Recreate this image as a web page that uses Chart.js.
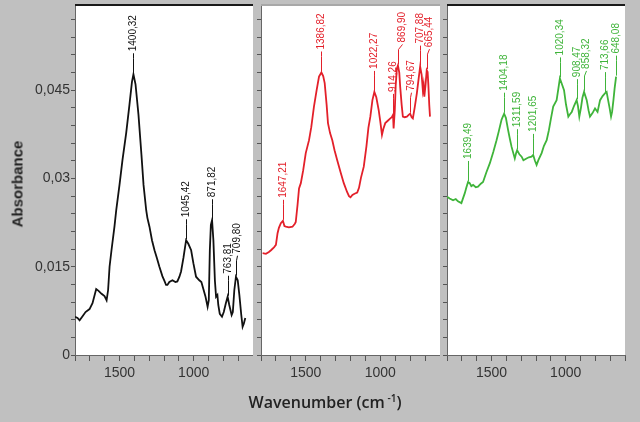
<!doctype html>
<html lang="en">
<head>
<meta charset="UTF-8">
<title>IR spectra - Absorbance vs Wavenumber</title>
<script src="https://cdn.jsdelivr.net/npm/chart.js"></script>
<style>
  body { margin: 0; background: #c0c0c0; }
  #wrap { position: relative; width: 640px; height: 422px; overflow: hidden; font-family: Arial, "Liberation Sans", sans-serif; }
  #wrap canvas { position: absolute; top: 0; }
  .ytitle { position: absolute; left: 17px; top: 184px; transform: translate(-50%, -50%) rotate(-90deg);
            font-weight: bold; font-size: 15px; color: #222; white-space: nowrap; }
  .xtitle { position: absolute; left: 325px; top: 402px; transform: translate(-50%, -50%);
            font-family: "Open Sans", sans-serif; font-weight: 600; font-size: 16px; color: #222; white-space: nowrap; }
  .xtitle sup { font-size: 10px; }
</style>
</head>
<body>
<div id="wrap">
  <canvas id="p1" width="253" height="422" style="left:0"></canvas>
  <canvas id="p2" width="187" height="422" style="left:253px"></canvas>
  <canvas id="p3" width="200" height="422" style="left:440px"></canvas>
  <div class="ytitle">Absorbance</div>
  <div class="xtitle">Wavenumber (cm<sup> -1</sup>)</div>
</div>

<script>
// black spectrum
const blackWn = [1800, 1783, 1769, 1749, 1729, 1702, 1682, 1657, 1641, 1621, 1601, 1587, 1577, 1567, 1554, 1534, 1522, 1500, 1480, 1455,
  1433, 1416, 1406, 1392, 1372, 1352, 1338, 1320, 1312, 1298, 1281, 1264, 1248, 1231, 1211, 1197, 1186, 1177, 1164, 1143,
  1123, 1110, 1096, 1085, 1069, 1051, 1036, 1017, 1002, 984, 962, 948, 939, 921, 906, 898, 891, 884, 876, 867,
  857, 849, 840, 834, 824, 809, 797, 783, 771, 760, 744, 736, 726, 715, 703, 692, 679, 670, 662, 652];
const blackAbs = [0.0065, 0.0063, 0.0059, 0.0066, 0.0073, 0.0078, 0.0088, 0.0112, 0.0109, 0.0104, 0.0100, 0.0093, 0.0110, 0.0150, 0.0178, 0.0218, 0.0246, 0.0289, 0.0331, 0.0377,
  0.0425, 0.0464, 0.0477, 0.0460, 0.0408, 0.0340, 0.0289, 0.0246, 0.0233, 0.0218, 0.0195, 0.0178, 0.0165, 0.0150, 0.0134, 0.0126, 0.0119, 0.0119, 0.0124, 0.0127,
  0.0124, 0.0125, 0.0133, 0.0142, 0.0165, 0.0195, 0.0189, 0.0178, 0.0156, 0.0133, 0.0127, 0.0124, 0.0116, 0.0100, 0.0082, 0.0093, 0.0178, 0.0221, 0.0229, 0.0195,
  0.0127, 0.0099, 0.0102, 0.0085, 0.0070, 0.0065, 0.0073, 0.0088, 0.0099, 0.0085, 0.0068, 0.0073, 0.0110, 0.0133, 0.0127, 0.0102, 0.0068, 0.0048, 0.0053, 0.0063];
const blackPeakText = ['1400,32', '1045,42', '871,82', '763,81', '709,80'];
const blackPeakWn = [1406, 1051, 876, 771, 715];
const blackPeakAbs = [0.0477, 0.0195, 0.0229, 0.0099, 0.0133];

// red spectrum
const redWn = [1789, 1767, 1747, 1733, 1713, 1700, 1689, 1680, 1667, 1653, 1643, 1633, 1613, 1589, 1573, 1567, 1560, 1555, 1545, 1533,
  1517, 1500, 1478, 1463, 1445, 1427, 1411, 1395, 1383, 1373, 1360, 1351, 1337, 1322, 1307, 1289, 1267, 1245, 1223, 1210,
  1200, 1187, 1173, 1155, 1143, 1130, 1111, 1093, 1080, 1067, 1053, 1040, 1027, 1011, 1000, 989, 980, 967, 950, 933,
  923, 915, 911, 903, 897, 889, 882, 873, 867, 857, 849, 837, 822, 810, 800, 790, 782, 770, 755, 743,
  733, 723, 715, 710, 705, 697, 689, 683, 678, 672, 667];
const redAbs = [0.0173, 0.0172, 0.0175, 0.0178, 0.0183, 0.0187, 0.0207, 0.0216, 0.0224, 0.0228, 0.0219, 0.0218, 0.0217, 0.0218, 0.0223, 0.0226, 0.0243, 0.0255, 0.0283, 0.0292,
  0.0314, 0.0343, 0.0365, 0.0387, 0.0422, 0.0450, 0.0473, 0.0480, 0.0474, 0.0462, 0.0425, 0.0394, 0.0377, 0.0365, 0.0348, 0.0331, 0.0311, 0.0292, 0.0277, 0.0270,
  0.0268, 0.0272, 0.0274, 0.0276, 0.0284, 0.0301, 0.0320, 0.0355, 0.0386, 0.0405, 0.0433, 0.0447, 0.0438, 0.0416, 0.0396, 0.0374, 0.0384, 0.0394, 0.0398, 0.0402,
  0.0404, 0.0408, 0.0385, 0.0416, 0.0458, 0.0487, 0.0492, 0.0480, 0.0456, 0.0425, 0.0405, 0.0404, 0.0405, 0.0408, 0.0410, 0.0404, 0.0402, 0.0420, 0.0445, 0.0470,
  0.0490, 0.0476, 0.0450, 0.0459, 0.0439, 0.0459, 0.0484, 0.0481, 0.0459, 0.0425, 0.0405];
const redPeakText = ['1647,21', '1386,82', '1022,27', '914,26', '869,90', '794,67', '707,88', '665,44'];
const redPeakWn = [1653, 1395, 1040, 915, 882, 800, 733, 689];
const redPeakAbs = [0.0228, 0.0480, 0.0447, 0.0408, 0.0492, 0.0410, 0.0490, 0.0484];

// green spectrum
const greenWn = [1800, 1782, 1759, 1741, 1726, 1703, 1691, 1680, 1670, 1658, 1647, 1636, 1624, 1606, 1591, 1572, 1557, 1535, 1511, 1488,
  1466, 1451, 1432, 1415, 1403, 1388, 1376, 1365, 1353, 1343, 1334, 1327, 1312, 1297, 1285, 1264, 1248, 1230, 1219, 1207,
  1196, 1184, 1162, 1147, 1128, 1113, 1099, 1084, 1061, 1049, 1039, 1025, 1011, 998, 982, 971, 959, 944, 926, 917,
  908, 897, 887, 876, 858, 846, 836, 819, 802, 785, 768, 751, 734, 724, 716, 704, 694, 687, 678, 670, 660];
const greenAbs = [0.0269, 0.0266, 0.0263, 0.0265, 0.0261, 0.0258, 0.0267, 0.0275, 0.0284, 0.0294, 0.0292, 0.0287, 0.0289, 0.0285, 0.0286, 0.0291, 0.0294, 0.0310, 0.0326, 0.0345,
  0.0365, 0.0380, 0.0400, 0.0410, 0.0403, 0.0382, 0.0367, 0.0354, 0.0343, 0.0334, 0.0343, 0.0348, 0.0341, 0.0337, 0.0331, 0.0334, 0.0336, 0.0337, 0.0340, 0.0330,
  0.0323, 0.0331, 0.0343, 0.0355, 0.0365, 0.0382, 0.0402, 0.0422, 0.0433, 0.0453, 0.0470, 0.0460, 0.0450, 0.0426, 0.0405, 0.0409, 0.0413, 0.0423, 0.0433, 0.0423,
  0.0405, 0.0420, 0.0437, 0.0447, 0.0433, 0.0416, 0.0405, 0.0411, 0.0419, 0.0413, 0.0433, 0.0440, 0.0445, 0.0447, 0.0436, 0.0420, 0.0405, 0.0413, 0.0433, 0.0453, 0.0473];
const greenPeakText = ['1639,49', '1404,18', '1311,59', '1201,65', '1020,34', '908,47', '858,32', '713,66', '648,08'];
const greenPeakWn = [1658, 1415, 1327, 1219, 1039, 926, 876, 734, 660];
const greenPeakAbs = [0.0294, 0.0410, 0.0348, 0.0340, 0.0470, 0.0433, 0.0447, 0.0445, 0.0473];

// axes
const xTickValues = [1500, 1000];
const xTickLabels = ['1500', '1000'];
const yTickValues = [0, 0.015, 0.03, 0.045];
const yTickLabels = ['0', '0,015', '0,03', '0,045'];
const xMin = 600, xMax = 1800, yMax = 0.0593;

Chart.defaults.font.family = 'Arial, "Liberation Sans", sans-serif';

// white plot area + top edge
const panelBg = {
  id: 'panelBg',
  beforeDraw(chart, args, o) {
    const { ctx, chartArea: a } = chart;
    ctx.save();
    ctx.fillStyle = '#fff';
    ctx.fillRect(a.left, a.top, a.right - a.left, a.bottom - a.top);
    ctx.fillStyle = o.topColor;
    ctx.fillRect(a.left, a.top - 2, a.right - a.left, 2);
    ctx.restore();
  }
};

// rotated peak labels with leader lines
const peakLabels = {
  id: 'peakLabels',
  afterDatasetsDraw(chart, args, o) {
    const { ctx, scales: { x, y } } = chart;
    const items = o.text.map((t, i) => ({
      text: t,
      px: x.getPixelForValue(o.wn[i]),
      py: y.getPixelForValue(o.abs[i])
    })).sort((a, b) => a.px - b.px);
    let prev = -Infinity;
    items.forEach(it => { it.tx = Math.max(it.px, prev + 9); prev = it.tx; });
    ctx.save();
    ctx.strokeStyle = o.color;
    ctx.fillStyle = o.color;
    ctx.lineWidth = 1;
    ctx.font = '10px Arial, "Liberation Sans", sans-serif';
    items.forEach(it => {
      const top = it.py - 21;
      ctx.beginPath();
      ctx.moveTo(Math.round(it.px) + 0.5, it.py - 1);
      ctx.lineTo(Math.round(it.px) + 0.5, top + 5);
      ctx.lineTo(Math.round(it.tx) + 0.5, top);
      ctx.stroke();
      ctx.save();
      ctx.translate(Math.round(it.tx) + 0.5, top - 2);
      ctx.rotate(-Math.PI / 2);
      ctx.textAlign = 'left';
      ctx.textBaseline = 'middle';
      ctx.fillText(it.text, 0, 0);
      ctx.restore();
    });
    ctx.restore();
  }
};

function makePanel(id, wn, abs, peakText, peakWn, peakAbs, color, yWidth, padRight, showY, topColor) {
  return new Chart(document.getElementById(id), {
    type: 'line',
    data: {
      datasets: [{
        data: wn.map((w, i) => ({ x: w, y: abs[i] })),
        borderColor: color,
        borderWidth: 1.8,
        pointRadius: 0,
        tension: 0,
        fill: false
      }]
    },
    options: {
      responsive: false,
      animation: false,
      layout: { padding: { top: 6, right: padRight, left: 0, bottom: 0 } },
      plugins: {
        legend: { display: false },
        tooltip: { enabled: false },
        panelBg: { topColor: topColor },
        peakLabels: { text: peakText, wn: peakWn, abs: peakAbs, color: color }
      },
      scales: {
        x: {
          type: 'linear',
          reverse: true,
          min: xMin,
          max: xMax,
          ticks: {
            stepSize: 100,
            autoSkip: false,
            maxRotation: 0,
            padding: 4,
            color: '#333',
            font: { size: 14 },
            callback: v => {
              const i = xTickValues.indexOf(Math.round(v));
              return i >= 0 ? xTickLabels[i] : '';
            }
          },
          grid: { drawOnChartArea: false, tickLength: 6, color: '#555' },
          border: { color: '#666' },
          afterFit: s => { s.height = 67; s.paddingLeft = 0; s.paddingRight = 0; }
        },
        y: {
          min: 0,
          max: yMax,
          ticks: {
            stepSize: 0.003,
            autoSkip: false,
            includeBounds: false,
            padding: 1,
            color: '#333',
            font: { size: 14 },
            callback: v => {
              const i = yTickValues.findIndex(t => Math.abs(t - v) < 1e-6);
              return showY && i >= 0 ? yTickLabels[i] : '';
            }
          },
          grid: { drawOnChartArea: false, tickLength: 4, color: '#555' },
          border: { color: '#666' },
          afterFit: s => { s.width = yWidth; s.paddingTop = 0; s.paddingBottom = 0; }
        }
      }
    },
    plugins: [panelBg, peakLabels]
  });
}

makePanel('p1', blackWn, blackAbs, blackPeakText, blackPeakWn, blackPeakAbs, '#111111', 75, 0, true, '#1a1a1a');
makePanel('p2', redWn, redAbs, redPeakText, redPeakWn, redPeakAbs, '#e3202a', 8, 0, false, '#a8a8a8');
makePanel('p3', greenWn, greenAbs, greenPeakText, greenPeakWn, greenPeakAbs, '#3fb43a', 7, 15, false, '#1a1a1a');
</script>
</body>
</html>
